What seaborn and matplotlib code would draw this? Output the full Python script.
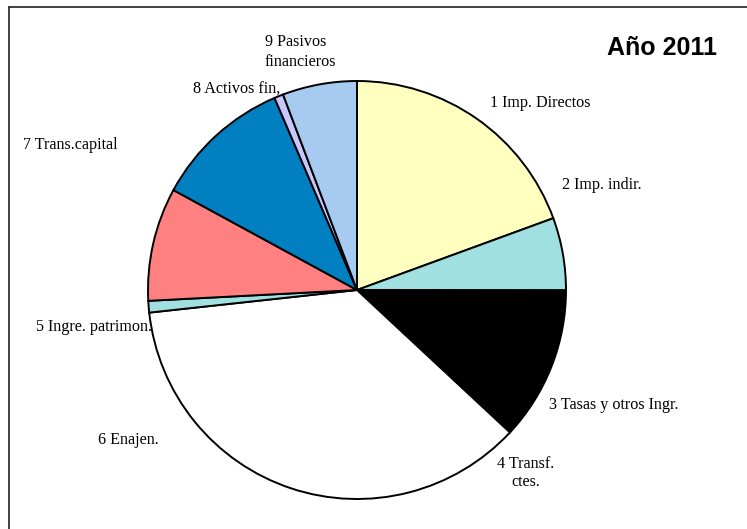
import matplotlib
matplotlib.use("Agg")
import matplotlib.pyplot as plt
import seaborn as sns
from matplotlib.lines import Line2D

# Budget chapters, share of revenue in 2011 (%)
chapters = ["1 Imp. Directos", "2 Imp. indir.", "3 Tasas y otros Ingr.",
            "4 Transf.\nctes.", "5 Ingre. patrimon.", "6 Enajen.",
            "7 Trans.capital", "8 Activos fin,", "9 Pasivos\nfinancieros"]
shares = [19.4, 5.6, 11.9, 36.3, 0.9, 8.75, 10.6, 0.7, 5.75]
slice_colors = ["#FFFFC0", "#A0E0E0", "#000000", "#FFFFFF", "#A0E0E0",
                "#FF8080", "#0080C0", "#C8C8FF", "#A6CAF0"]

# label anchor points in pixels (x, y from top), as placed in the original
label_pos = [(490, 103, "left"), (562, 185, "left"), (549, 405, "left"),
             (526, 473, "center"), (36, 327, "left"), (98, 440, "left"),
             (23, 145, "left"), (193, 90, "left"), (265, 52, "left")]

sns.set_style("white")
plt.rcParams['font.family'] = ['Liberation Serif', 'DejaVu Serif']
plt.rcParams['text.color'] = 'black'

W, H = 747, 529
fig = plt.figure(figsize=(W / 100, H / 100), dpi=100)
fig.patch.set_facecolor("white")

cx, cy, r = 357, 290, 209
ax = fig.add_axes([(cx - r) / W, (H - cy - r) / H, 2 * r / W, 2 * r / H])
ax.pie(shares, colors=slice_colors, startangle=90, counterclock=False,
       wedgeprops=dict(edgecolor="black", linewidth=1.4))
ax.set_xlim(-1.0, 1.0)
ax.set_ylim(-1.0, 1.0)
ax.set_aspect("equal", adjustable="box")
ax.axis("off")

for name, (px, py, ha) in zip(chapters, label_pos):
    fig.text(px / W, 1 - py / H, name, ha=ha, va="center",
             fontsize=11.6, linespacing=1.25, color="black")

fig.text(662 / W, 1 - 48 / H, "Año 2011", ha="center", va="center",
         fontsize=18, fontweight="bold", color="black",
         family=["Liberation Sans", "DejaVu Sans"])

# chart frame (only top and left edges fall inside the picture)
fig.add_artist(Line2D([8.5 / W, 8.5 / W], [0, 1 - 6.5 / H], transform=fig.transFigure,
                      color="#222222", linewidth=1.2))
fig.add_artist(Line2D([8.5 / W, 1], [1 - 6.5 / H, 1 - 6.5 / H], transform=fig.transFigure,
                      color="#222222", linewidth=1.2))

fig.savefig("out.png", dpi=100)
